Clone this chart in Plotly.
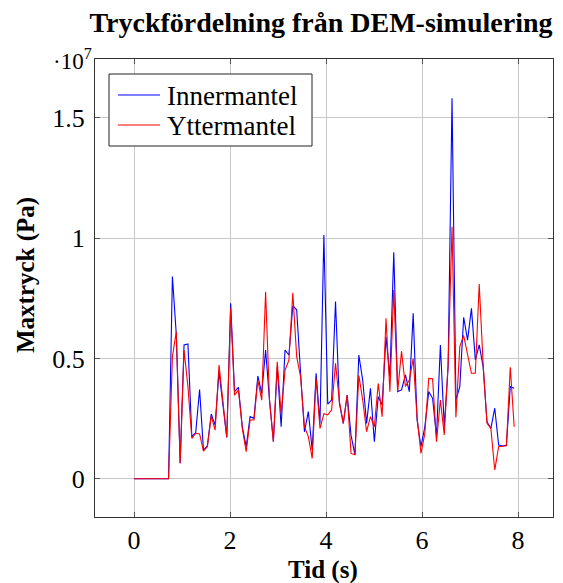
import numpy as np
import plotly.graph_objects as go

# Time (s): flat zero segment, then sampled points
t_zero = [0.0, 0.72]
t_data = np.linspace(0.80, 7.92, 89)

# Maximum pressure in units of 1e6 Pa
inner = [8.40, 6.00, 0.64, 5.56, 5.60, 1.75, 1.91, 3.71, 1.19, 1.36,
         2.69, 2.23, 4.45, 3.14, 1.72, 7.29, 3.62, 3.80, 2.16, 1.33,
         2.58, 2.51, 4.27, 3.54, 5.35, 3.27, 1.54, 4.65, 2.16, 5.35,
         5.14, 7.18, 7.02, 4.40, 1.95, 2.79, 1.19, 4.38, 2.30, 10.13,
         3.10, 3.27, 7.36, 3.14, 2.30, 3.48, 1.80, 0.99, 5.14, 4.10,
         2.30, 3.76, 1.54, 3.41, 3.07, 5.90, 4.24, 9.41, 3.62, 3.69,
         4.31, 3.62, 6.87, 2.44, 1.33, 2.16, 3.62, 3.34, 1.75, 5.56,
         2.16, 4.66, 15.81, 3.27, 3.83, 6.71, 5.76, 7.08, 4.93, 5.56,
         4.66, 2.37, 2.09, 2.93, 1.40, 1.36, 1.40, 3.83, 3.76]
outer = [5.07, 6.11, 0.64, 5.35, 3.82, 1.68, 1.89, 1.86, 1.15, 1.33,
         2.61, 2.02, 4.72, 3.14, 1.72, 7.08, 3.47, 3.69, 2.09, 1.12,
         2.44, 2.44, 4.10, 3.26, 7.77, 3.27, 1.54, 4.86, 2.70, 4.50,
         4.93, 7.73, 5.07, 4.24, 2.16, 1.75, 0.85, 4.17, 2.09, 2.70,
         2.65, 2.86, 4.80, 3.20, 2.30, 3.48, 1.05, 1.00, 4.30, 3.27,
         1.96, 2.58, 2.16, 3.96, 2.58, 6.67, 3.62, 7.84, 3.62, 5.30,
         3.83, 4.10, 4.99, 2.56, 1.05, 1.88, 4.17, 4.15, 1.54, 3.27,
         1.82, 4.80, 10.47, 2.56, 5.49, 5.95, 5.21, 4.38, 4.38, 8.09,
         4.80, 2.30, 2.09, 0.36, 1.33, 1.36, 1.37, 4.63, 2.16]

series_names = ["Innermantel", "Yttermantel"]
series_colors = ["#0000ff", "#ff0000"]
y_tickvals = [0, 5e6, 1e7, 1.5e7]
y_ticktext = ["0", "0.5", "1", "1.5"]
x_tickvals = [0, 2, 4, 6, 8]

t_all = list(t_zero) + list(t_data)
inner_pa = [0.0, 0.0] + [v * 1e6 for v in inner]
outer_pa = [0.0, 0.0] + [v * 1e6 for v in outer]

FONT = "Liberation Serif"
OFF = 8  # page body margin of the browser (left/top)
W, H = 563 - OFF, 583 - OFF
ML, MR, MT, MB = 95 - OFF, 10, 59 - OFF, 66
PW, PH = W - ML - MR, H - MT - MB

def px_x(px):  # screen pixel x -> paper x
    return (px - OFF - ML) / PW

def px_y(py):  # screen pixel y (from top) -> paper y
    return 1 - (py - OFF - MT) / PH

fig = go.Figure()
for name, vals, col in zip(series_names, [inner_pa, outer_pa], series_colors):
    fig.add_trace(go.Scatter(x=t_all, y=vals, mode="lines", name=name,
                             line=dict(color=col, width=1.1), showlegend=False))

axis_common = dict(showgrid=True, gridcolor="#c8c8c8", gridwidth=1,
                   showline=True, linecolor="#333333", linewidth=1.2, mirror="ticks",
                   ticks="inside", ticklen=5, tickcolor="#555555", automargin=False,
                   zeroline=False, tickfont=dict(family=FONT, size=26, color="black"))

fig.update_xaxes(range=[-0.8125, 8.729], tickvals=x_tickvals,
                 ticklabelstandoff=0, **axis_common)
fig.update_yaxes(range=[-1.59e6, 17.44e6], tickvals=y_tickvals, ticktext=y_ticktext,
                 ticklabelstandoff=4, **axis_common)

# axis titles
fig.add_annotation(text="<b>Tid (s)</b>", xref="paper", yref="paper",
                   x=px_x(323), y=px_y(570), xanchor="center", yanchor="middle",
                   showarrow=False, font=dict(family=FONT, size=25, color="black"))
fig.add_annotation(text="<b>Maxtryck (Pa)</b>", xref="paper", yref="paper",
                   x=px_x(26), y=px_y(275), xanchor="center", yanchor="middle", textangle=-90,
                   showarrow=False, font=dict(family=FONT, size=25, color="black"))
# exponent label
fig.add_annotation(text="·10<sup>7</sup>", xref="paper", yref="paper",
                   x=px_x(72), y=px_y(59), xanchor="center", yanchor="middle",
                   showarrow=False, font=dict(family=FONT, size=23, color="black"))

# legend (box, line samples, labels)
fig.add_shape(type="rect", xref="paper", yref="paper",
              x0=px_x(109), x1=px_x(312), y0=px_y(146), y1=px_y(74),
              line=dict(color="#222222", width=1), fillcolor="white", layer="above")
for i, (name, col) in enumerate(zip(series_names, series_colors)):
    yc = 95 + 30 * i
    fig.add_shape(type="line", xref="paper", yref="paper",
                  x0=px_x(118), x1=px_x(160), y0=px_y(yc), y1=px_y(yc),
                  line=dict(color=col, width=1.1), layer="above")
    fig.add_annotation(text=name, xref="paper", yref="paper",
                       x=px_x(165), y=px_y(yc + 1), xanchor="left", yanchor="middle",
                       showarrow=False, font=dict(family=FONT, size=27, color="black"))

fig.update_layout(
    width=W, height=H,
    margin=dict(l=ML, r=MR, t=MT, b=MB, autoexpand=False),
    paper_bgcolor="white", plot_bgcolor="white",
    title=dict(text="<b>Tryckfördelning från DEM-simulering</b>", x=(321 - OFF) / W,
               xanchor="center", y=1 - (22 - OFF) / H, yanchor="middle",
               font=dict(family=FONT, size=28, color="black")),
    showlegend=False,
)

fig.write_html("out.html")
